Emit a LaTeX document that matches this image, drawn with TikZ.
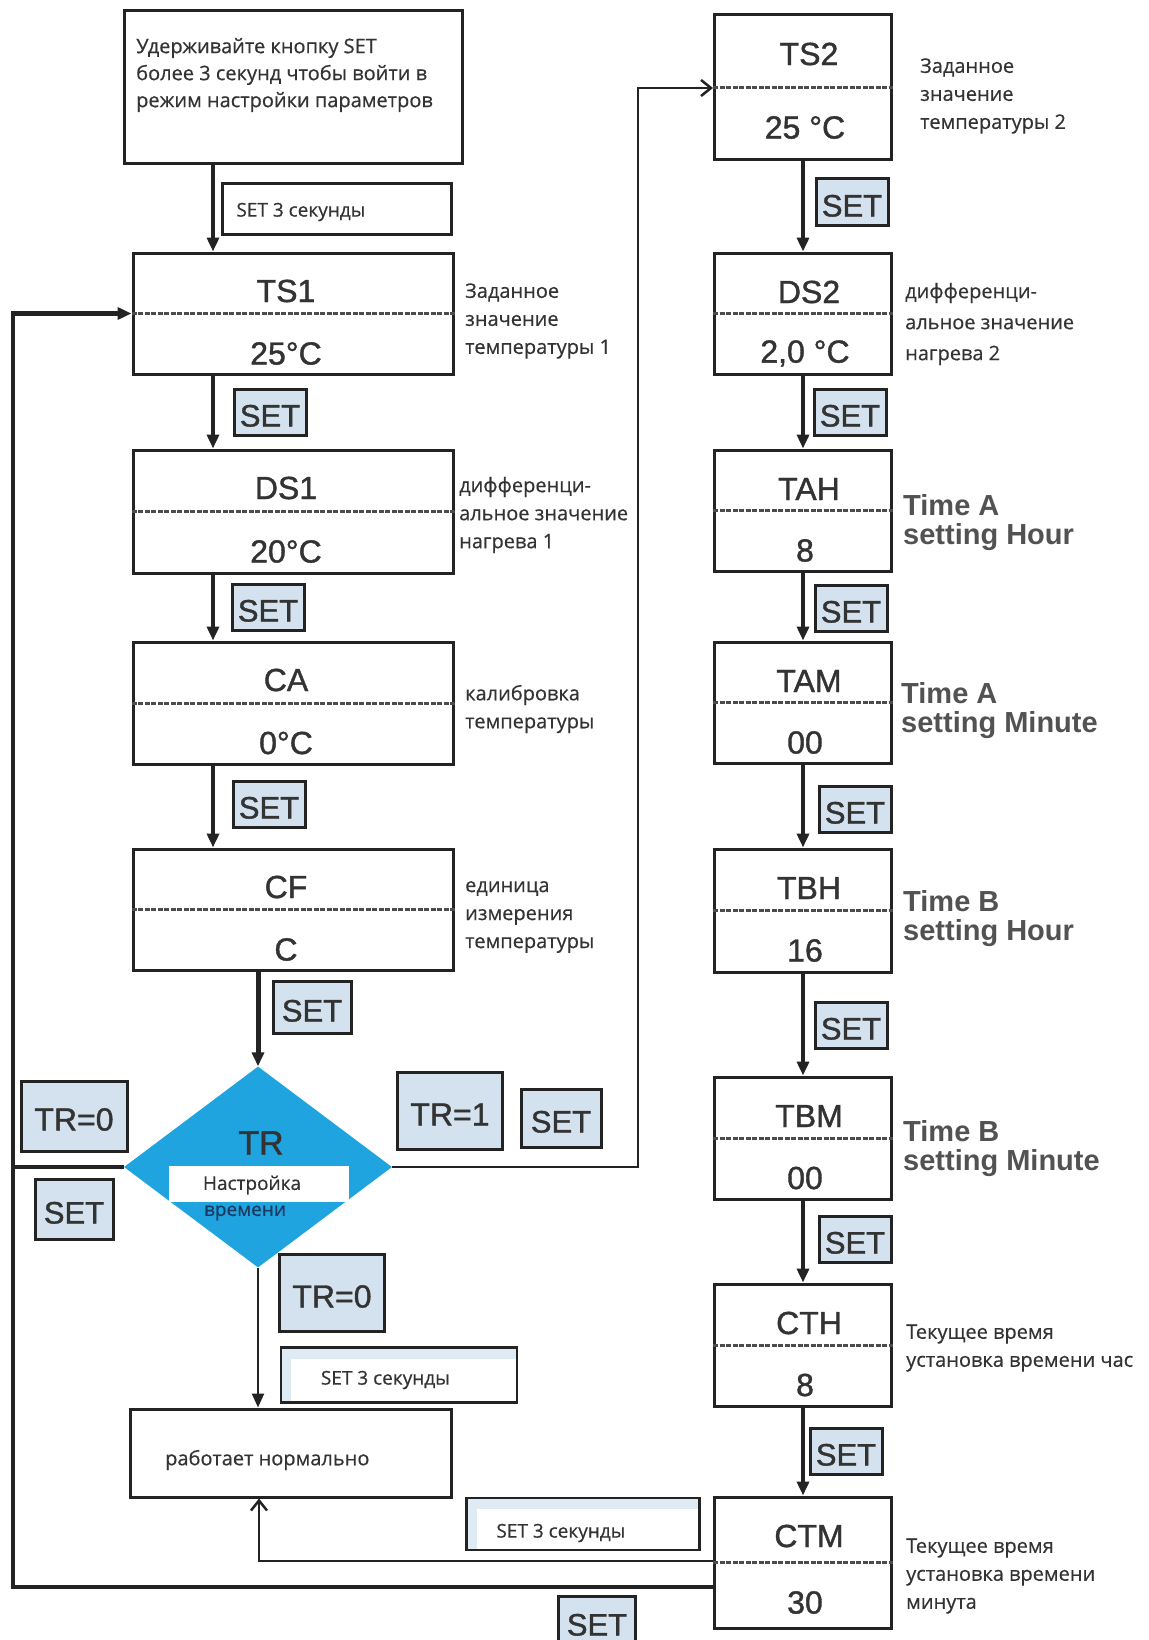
\documentclass[tikz,border=0pt]{standalone}
\usepackage{fontspec}
\setmainfont{Open Sans}[FakeBold=0.5]
\newfontfamily\codefont{Liberation Sans}[FakeBold=1.2]
\newfontfamily\timefont{Liberation Sans}
\usepackage{xcolor}
\usepackage{tikz}
\usetikzlibrary{arrows.meta,positioning,calc,shapes.geometric}

\definecolor{linec}{HTML}{232323}
\definecolor{txtc}{HTML}{333333}
\definecolor{setfill}{HTML}{D3E2EE}
\definecolor{stripc}{HTML}{DFEBF4}
\definecolor{diafill}{HTML}{1FA4DF}
\definecolor{navy}{HTML}{1B3B63}

\tikzset{
  parbox/.style={draw=linec,line width=3pt,fill=white,inner sep=0pt},
  midline/.style={draw=gray!60!black,line width=3pt,dash pattern=on 5pt off 1.5pt},
  code/.style={font=\codefont\fontsize{32}{36}\selectfont,text=txtc},
  note/.style={font=\fontsize{20}{28}\selectfont,text=txtc,align=left,anchor=west,inner sep=0pt},
  timenote/.style={font=\timefont\bfseries\fontsize{29}{29}\selectfont,text=txtc!85!white,align=left,anchor=west,inner sep=0pt},
  setbtn/.style={draw=linec,line width=3pt,fill=setfill,font=\codefont\fontsize{31}{31}\selectfont,text=txtc,minimum width=72pt,minimum height=46pt,inner sep=0pt,text height=29pt,text depth=0pt},
  secbox/.style={draw=linec,line width=2.5pt,fill=white},
  strip/.style={path picture={\fill[stripc] (path picture bounding box.north west) rectangle ([yshift=-11pt]path picture bounding box.north east);
    \fill[stripc] (path picture bounding box.north west) rectangle ([xshift=10pt]path picture bounding box.south west);}},
  sectext/.style={font=\fontsize{19}{20}\selectfont,text=txtc,anchor=west,inner sep=0pt},
  arr/.style={draw=linec,line width=3.5pt,-{Triangle[length=14pt,width=12pt]}},
  thinarr/.style={draw=linec,line width=2.5pt,-{Straight Barb[length=10pt,width=16pt]}},
}

\begin{document}
\begin{tikzpicture}[x=1pt,y=-1pt]
\useasboundingbox (0,0) rectangle (1148,1640);

\node[parbox,minimum width=338pt,minimum height=153pt] (start) at (293,87) {};
\node[note,font=\fontsize{20}{27}\selectfont] (start-txt) at (136,75) {Удерживайте кнопку SET\\более 3 секунд чтобы войти в\\режим настройки параметров};
\node[secbox,minimum width=229pt,minimum height=51pt] (sec1) at (337,209) {};
\node[sectext] (sec1-txt) at ([xshift=15pt,yshift=-3pt]sec1.west) {SET 3 секунды};

\foreach \nm/\yt/\yb/\ttl/\val in {ts1/253/374/TS1/25°C, ds1/450/573/DS1/20°C, ca/642/764/CA/0°C, cf/849/970/CF/C}{
  \node[parbox,minimum width=320pt,minimum height={\yb-\yt}] (\nm) at (293,{(\yt+\yb)/2}) {};
  \draw[midline] (\nm.west) -- (\nm.east);
  \node[code] (\nm-ttl) at (286,{\yt+38}) {\ttl};
  \node[code] (\nm-val) at (286,{(\yt+\yb)/2+40}) {\val};
}

\foreach \nm/\yt/\yb/\ttl/\val in {ts2/15/160/TS2/25 °C, ds2/253/374/DS2/{2,0 °C}, tah/450/571/TAH/8, tam/642/763/TAM/00, tbh/849/972/TBH/16, tbm/1077/1199/TBM/00, cth/1284/1406/CTH/8, ctm/1497/1628/CTM/30}{
  \node[parbox,minimum width=177pt,minimum height={\yb-\yt}] (\nm) at (803,{(\yt+\yb)/2}) {};
  \draw[midline] (\nm.west) -- (\nm.east);
  \node[code] (\nm-ttl) at (809,{\yt+39}) {\ttl};
  \node[code] (\nm-val) at (805,{(\yt+\yb)/2+40}) {\val};
}

\node[note] (ts1-note) at (465,321) {Заданное\\значение\\температуры 1};
\node[note] (ds1-note) at (459,515) {дифференци-\\альное значение\\нагрева 1};
\node[note] (ca-note) at (465,709) {калибровка\\температуры};
\node[note] (cf-note) at (465,917) {единица\\измерения\\температуры};
\node[note] (ts2-note) at (920,96) {Заданное\\значение\\температуры 2};
\node[note,font=\fontsize{20}{31}\selectfont] (ds2-note) at (905,324) {дифференци-\\альное значение\\нагрева 2};
\node[timenote] (tah-note) at (903,523) {Time A\\setting Hour};
\node[timenote] (tam-note) at (901,711) {Time A\\setting Minute};
\node[timenote] (tbh-note) at (903,919) {Time B\\setting Hour};
\node[timenote] (tbm-note) at (903,1149) {Time B\\setting Minute};
\node[note] (cth-note) at (906,1348) {Текущее время\\установка времени час};
\node[note] (ctm-note) at (906,1576) {Текущее время\\установка времени\\минута};

\foreach \a/\b in {start/ts1, ts1/ds1, ds1/ca, ca/cf}
  \draw[arr] ([xshift=-80pt]\a.south) -- ([xshift=-80pt]\b.north);
\foreach \a/\b in {ts2/ds2, ds2/tah, tah/tam, tam/tbh, tbh/tbm, tbm/cth, cth/ctm}
  \draw[arr] (\a.south) -- (\b.north);

\foreach \x/\y/\nm in {270/412/set1, 268/607/set2, 269/804/set3, 852/202/set5, 850/412/set6, 851/608/set7, 855/809/set8, 851/1025/set9, 855/1239/set10, 846/1451/set11}
  \node[setbtn] (\nm) at (\x,\y) {SET};
\node[setbtn,minimum width=78pt,minimum height=52pt] (set4) at (312,1007) {SET};

\node[shape=diamond,fill=diafill,minimum width=268pt,minimum height=201pt,inner sep=0pt] (tr) at (258,1167) {};
\node[code,font=\codefont\fontsize{34}{36}\selectfont] (tr-ttl) at (261,1143) {TR};
\node[fill=white,minimum width=180pt,minimum height=36pt,inner sep=0pt] (tr-box) at (259,1184) {};
\node[note,anchor=center,font=\fontsize{19}{20}\selectfont] (tr-txt1) at (252,1185) {Настройка};
\node[note,anchor=center,font=\fontsize{19}{20}\selectfont,text=navy] (tr-txt2) at (245,1213) {времени};

\node[setbtn,minimum width=106pt,minimum height=70pt,font=\codefont\fontsize{32}{32}\selectfont] (tr0-l) at (74,1116) {TR=0};
\node[setbtn,minimum width=78pt,minimum height=60pt] (set-l) at (74,1209) {SET};
\node[setbtn,minimum width=105pt,minimum height=77pt,font=\codefont\fontsize{32}{32}\selectfont] (tr1) at (450,1111) {TR=1};
\node[setbtn,minimum width=80pt,minimum height=58pt] (set-r) at (561,1118) {SET};
\node[setbtn,minimum width=105pt,minimum height=77pt,font=\codefont\fontsize{32}{32}\selectfont] (tr0-b) at (332,1293) {TR=0};
\node[secbox,strip,minimum width=236pt,minimum height=55pt] (sec2) at (399,1375) {};
\node[sectext] (sec2-txt) at ([xshift=41pt,yshift=-5pt]sec2.west) {SET 3 секунды};
\node[parbox,minimum width=321pt,minimum height=88pt] (work) at (291,1453) {};
\node[note] (work-txt) at ([xshift=36pt,yshift=-7pt]work.west) {работает нормально};
\node[secbox,strip,minimum width=233pt,minimum height=52pt] (sec3) at (583,1524) {};
\node[sectext] (sec3-txt) at ([xshift=31pt,yshift=-9pt]sec3.west) {SET 3 секунды};
\node[setbtn,minimum width=77pt,minimum height=50pt] (set-bot) at (597,1621) {SET};

\draw[arr,line width=5pt] (cf.south -| tr.north) -- (tr.north);
\draw[arr,line width=2.5pt] (tr.south) -- (tr.south |- work.north);
\coordinate (up) at (638,88);
\draw[thinarr] (tr.east) -| (up) -- (up -| ts2.west);
\coordinate (lb) at (13,1587);
\draw[arr,line width=4.5pt] (ctm.west |- lb) -- (lb) |- (ts1.west);
\draw[draw=linec,line width=4.5pt] (tr.west) -- (tr.west -| lb);
\coordinate (rb) at (259,1561);
\draw[thinarr] (ctm.west |- rb) -- (rb) -- (rb |- work.south);
\end{tikzpicture}
\end{document}
